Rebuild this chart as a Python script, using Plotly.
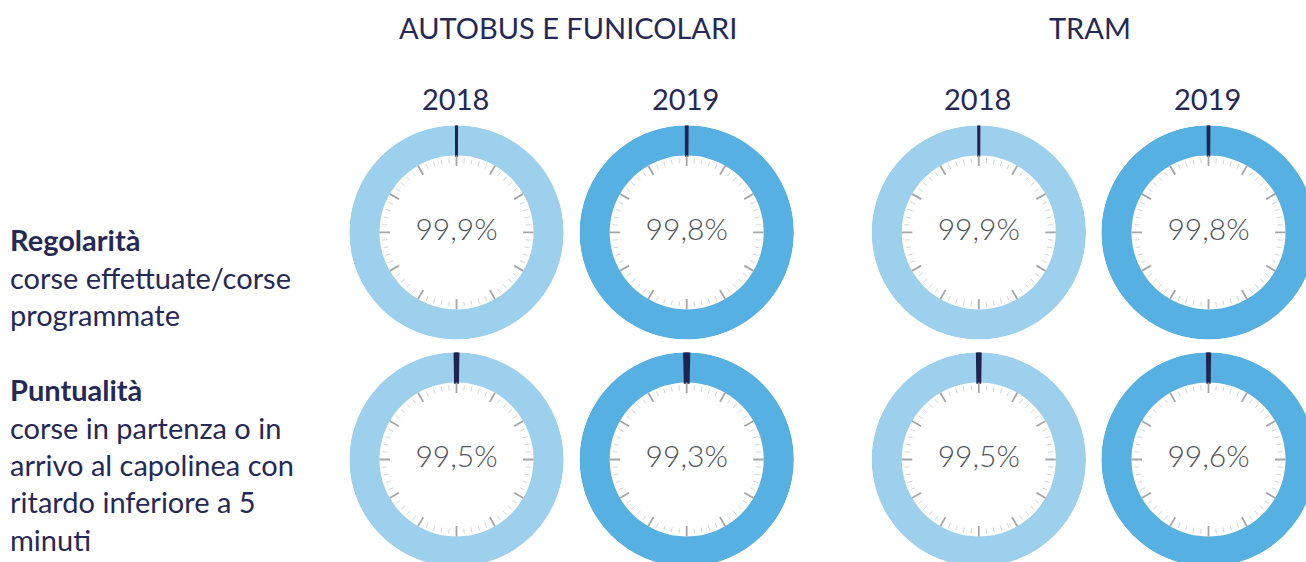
import plotly.graph_objects as go

# ---------------- data ----------------
group_titles = ["AUTOBUS E FUNICOLARI", "TRAM"]
years = ["2018", "2019", "2018", "2019"]
regolarita = [99.9, 99.8, 99.9, 99.8]   # bus 2018, bus 2019, tram 2018, tram 2019
puntualita = [99.5, 99.3, 99.5, 99.6]
label_lines = [
    ["<b>Regolarità</b>", "corse effettuate/corse", "programmate"],
    ["<b>Puntualità</b>", "corse in partenza o in", "arrivo al capolinea con",
     "ritardo inferiore a 5", "minuti"],
]

# ---------------- style / layout ----------------
W, H = 1330, 580
FONT = "Lato"
NAVY = "#262955"
DARK = "#20244f"
RING = {"2018": "#9cd0ed", "2019": "#56b0e2"}
PCT_COLOR = "#4f545c"
MAJOR_C, MINOR_C = "#a6a6a6", "#d4d4d4"
col_x = [456.5, 686.7, 978.8, 1208.5]
row_y = [232.4, 459.5]
R_OUT, R_IN = 107.2, 77.0

fig = go.Figure()
layout_polars = {}

rows = [regolarita, puntualita]
idx = 0
for ri, vals in enumerate(rows):
    for ci, v in enumerate(vals):
        idx += 1
        key = "polar" if idx == 1 else f"polar{idx}"
        cx, cy = col_x[ci], row_y[ri]
        layout_polars[key] = dict(
            domain=dict(x=[(cx - R_OUT) / W, (cx + R_OUT) / W],
                        y=[1 - (cy + R_OUT) / H, 1 - (cy - R_OUT) / H]),
            bgcolor="rgba(0,0,0,0)",
            hole=0,
            radialaxis=dict(range=[0, R_OUT], visible=False, showgrid=False,
                            showline=False, showticklabels=False, ticks=""),
            angularaxis=dict(rotation=90, direction="clockwise", visible=False,
                             showgrid=False, showline=False,
                             showticklabels=False, ticks=""),
        )
        ring_c = RING[years[ci]]
        # ring: share achieved + dark remainder at the top
        fig.add_trace(go.Barpolar(
            subplot=key,
            r=[R_OUT - R_IN, R_OUT - R_IN],
            base=[R_IN, R_IN],
            theta=[180, 0],
            width=[v * 3.6, (100 - v) * 3.6],
            marker=dict(color=[ring_c, DARK],
                        line=dict(color=[ring_c, DARK], width=[0, 2.5])),
            hoverinfo="skip", showlegend=False,
        ))
        # dial ticks
        maj_r, maj_t, min_r, min_t = [], [], [], []
        for k in range(60):
            ang = k * 6
            if k % 5 == 0:
                maj_r += [R_IN, R_IN - 10.5, None]
                maj_t += [ang, ang, None]
            else:
                min_r += [R_IN - 2.5, R_IN - 7.5, None]
                min_t += [ang, ang, None]
        fig.add_trace(go.Scatterpolar(
            subplot=key, r=min_r, theta=min_t, mode="lines",
            line=dict(color=MINOR_C, width=1), hoverinfo="skip", showlegend=False))
        fig.add_trace(go.Scatterpolar(
            subplot=key, r=maj_r, theta=maj_t, mode="lines",
            line=dict(color=MAJOR_C, width=1.8), hoverinfo="skip", showlegend=False))
        # value text
        fig.add_trace(go.Scatterpolar(
            subplot=key, r=[0], theta=[0], mode="text",
            text=[f"{v:.1f}%".replace(".", ",")],
            textposition="middle center",
            textfont=dict(family=FONT, size=30, color=PCT_COLOR, weight=300),
            hoverinfo="skip", showlegend=False))

annotations = []
# group titles
for gi, title in enumerate(group_titles):
    cx = (col_x[2 * gi] + col_x[2 * gi + 1]) / 2 - 4
    annotations.append(dict(x=cx / W, y=1 - 28 / H, xref="paper", yref="paper",
                            text=title, showarrow=False, xanchor="center",
                            yanchor="middle",
                            font=dict(family=FONT, size=29, color=NAVY)))
# years
for ci, yr in enumerate(years):
    annotations.append(dict(x=(col_x[ci] - 1) / W, y=1 - 98 / H, xref="paper",
                            yref="paper", text=yr, showarrow=False,
                            xanchor="center", yanchor="middle",
                            font=dict(family=FONT, size=29, color=NAVY)))
# left labels
line_y = [[239, 277, 314], [389, 427, 464, 501, 539]]
for bi, lines in enumerate(label_lines):
    for li, txt in enumerate(lines):
        annotations.append(dict(x=8 / W, y=1 - line_y[bi][li] / H,
                                xref="paper", yref="paper", text=txt,
                                showarrow=False, xanchor="left",
                                yanchor="middle", align="left",
                                font=dict(family=FONT, size=29, color=NAVY)))

fig.update_layout(
    width=W, height=H,
    margin=dict(l=0, r=0, t=0, b=0),
    paper_bgcolor="white", plot_bgcolor="white",
    showlegend=False,
    annotations=annotations,
    **layout_polars,
)

fig.write_html(
    "out.html",
    config={"displayModeBar": False},
    post_script="document.documentElement.style.overflow='hidden';"
                "document.body.style.margin='0';"
                "document.body.style.overflow='hidden';",
)
